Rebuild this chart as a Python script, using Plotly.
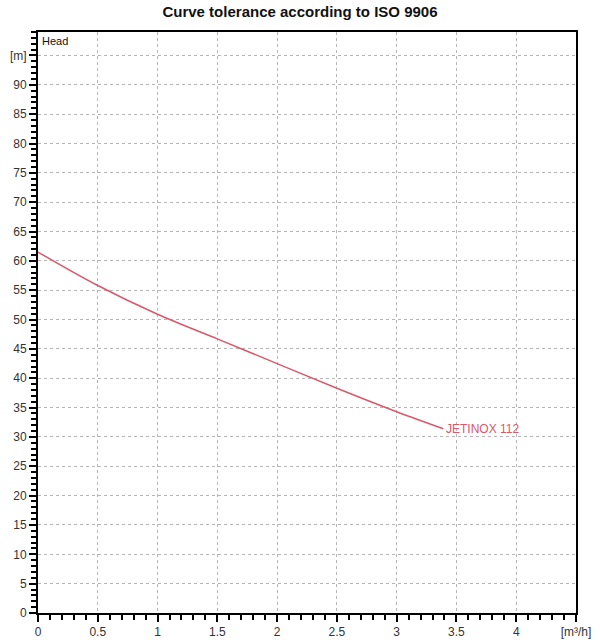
import plotly.graph_objects as go

# Pump curve
flow = [0, 0.5, 1.0, 1.5, 2.0, 2.5, 3.0, 3.39]
head = [61.5, 55.8, 50.9, 46.7, 42.5, 38.3, 34.3, 31.4]
curve_name = "JETINOX 112"

x_ticks = [0, 0.5, 1, 1.5, 2, 2.5, 3, 3.5, 4, 4.5]
x_labels = ["0", "0.5", "1", "1.5", "2", "2.5", "3", "3.5", "4", "[m³/h]"]
y_ticks = list(range(0, 100, 5))
y_labels = [str(v) for v in range(0, 95, 5)] + ["[m]"]

red = "#d9596b"

fig = go.Figure()
fig.add_trace(go.Scatter(
    x=flow, y=head, mode="lines",
    line=dict(color=red, width=1.5, shape="spline"),
    showlegend=False, hoverinfo="skip",
))

# curve label at the end point
fig.add_annotation(
    x=flow[-1], y=head[-1], text=curve_name, showarrow=False,
    xanchor="left", yanchor="middle", xshift=1,
    font=dict(color=red, size=12, family="Liberation Sans, Arial"),
)
fig.add_annotation(
    x=0, y=1, xref="paper", yref="paper", text="Head", showarrow=False,
    xanchor="left", yanchor="top", xshift=2, yshift=-1,
    font=dict(color="#111", size=11, family="Liberation Sans, Arial"),
)

axis_common = dict(
    automargin=False,
    showline=True, mirror=True, linecolor="black", linewidth=2,
    showgrid=True, gridcolor="#b5b5b5", gridwidth=1, griddash="dot",
    ticks="outside", ticklen=7, tickwidth=2, tickcolor="black",
    zeroline=False, tickfont=dict(size=12, color="#333", family="Liberation Sans, Arial"),
)

fig.update_xaxes(
    range=[0, 4.5], tickvals=x_ticks, ticktext=x_labels,
    minor=dict(ticks="outside", dtick=0.1, ticklen=5, tickwidth=1.5,
               tickcolor="black", showgrid=False),
    **axis_common,
)
fig.update_yaxes(
    range=[0, 99], tickvals=y_ticks, ticktext=y_labels,
    minor=dict(ticks="outside", dtick=1, ticklen=5, tickwidth=1.5,
               tickcolor="black", showgrid=False),
    **axis_common,
)

fig.update_layout(
    width=600, height=644,
    margin=dict(l=38, r=24, t=32, b=31),
    paper_bgcolor="white", plot_bgcolor="white",
    title=dict(text="<b>Curve tolerance according to ISO 9906</b>", x=0.5, xanchor="center",
               y=0.99, yanchor="top",
               font=dict(size=15, color="#111", family="Liberation Sans, Arial")),
)

# drop the browser's default page margin so the figure sits at 0,0
fig.write_html("out.html", config={"displayModeBar": False},
               post_script="document.body.style.margin='0';")
